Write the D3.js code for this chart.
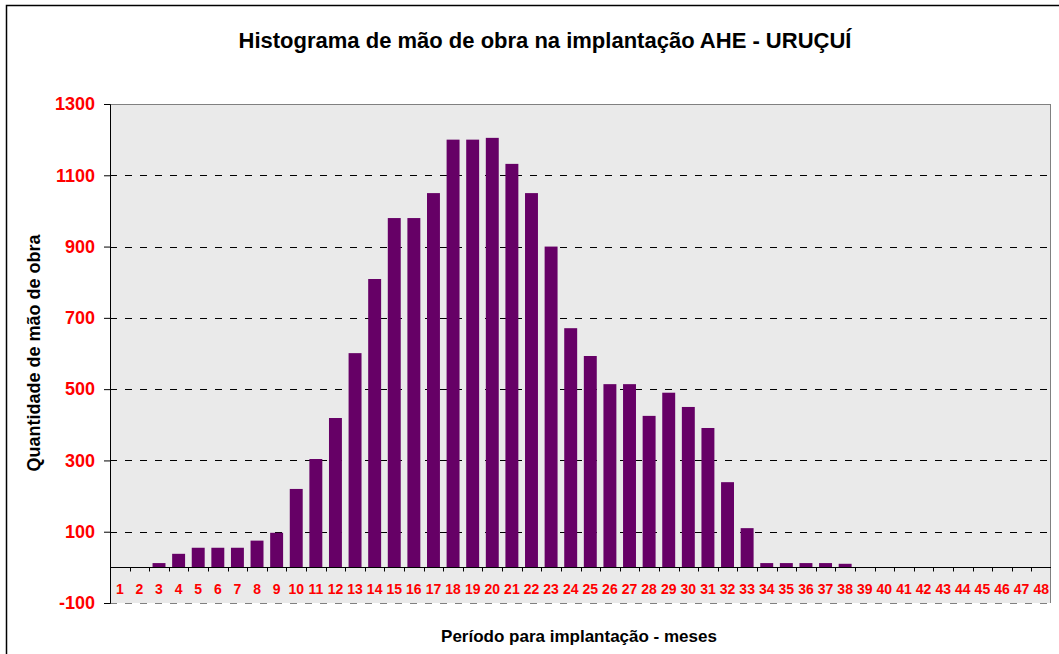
<!DOCTYPE html>
<meta charset="utf-8">
<script src="https://d3js.org/d3.v7.min.js"></script>
<style>
  body { margin: 0; background: #fff; }
  text { font-family: "Liberation Sans", Arial, sans-serif; font-weight: bold; }
</style>
<div id="chart"></div>
<script>
  // data
  const months = d3.range(1, 49).map(String);
  const workers = [0, 0, 12, 38, 55, 55, 55, 75, 97, 220, 304, 419, 601, 809, 980, 980,
    1050, 1200, 1200, 1205, 1132, 1050, 900, 671, 593, 514, 514, 425, 490, 450, 391, 239,
    110, 12, 12, 12, 12, 10, 0, 0, 0, 0, 0, 0, 0, 0, 0, 0];
  const yTicks = [1300, 1100, 900, 700, 500, 300, 100, -100];

  const W = 1059, H = 654;
  const margin = {top: 104, right: 8, bottom: 51, left: 110};
  const width = W - margin.left - margin.right,
        height = H - margin.top - margin.bottom;

  const svg = d3.select("#chart").append("svg")
      .attr("width", W).attr("height", H);

  // outer chart border
  svg.append("rect")
      .attr("x", 6.5).attr("y", 5.5).attr("width", W).attr("height", H)
      .attr("fill", "none").attr("stroke", "#000").attr("stroke-width", 1.5);

  const g = svg.append("g").attr("transform", `translate(${margin.left},${margin.top})`);

  const x = d3.scaleBand().domain(months).range([0, width]).paddingInner(0.34).paddingOuter(0.17);
  const y = d3.scaleLinear().domain([-100, 1300]).range([height, 0]);

  // plot area
  g.append("rect").attr("width", width).attr("height", height).attr("fill", "#eaeaea");
  g.append("line").attr("x1", 0).attr("x2", width).attr("y1", 0.5).attr("y2", 0.5)
      .attr("stroke", "#808080");
  g.append("line").attr("x1", width - 0.5).attr("x2", width - 0.5).attr("y1", 0).attr("y2", height)
      .attr("stroke", "#808080");

  // dashed grid
  g.selectAll(".grid").data(yTicks.filter(d => d < 1300))
    .join("line")
      .attr("x1", 0).attr("x2", width)
      .attr("y1", d => Math.round(y(d)) + 0.5).attr("y2", d => Math.round(y(d)) + 0.5)
      .attr("stroke", d => d === -100 ? "#808080" : "#000")
      .attr("stroke-dasharray", "7,8");

  // bars
  g.selectAll(".bar").data(workers)
    .join("rect")
      .attr("x", (d, i) => x(months[i]))
      .attr("width", x.bandwidth())
      .attr("y", d => y(d))
      .attr("height", d => y(0) - y(d))
      .attr("fill", "#660066");

  // y axis
  const yAxis = g.append("g")
      .call(d3.axisLeft(y).tickValues(yTicks).tickSize(6).tickPadding(9).tickFormat(d => String(d)));
  yAxis.select(".domain").attr("stroke", "#000");
  yAxis.selectAll("text").attr("fill", "#ff0000").style("font-size", "18px");

  // zero line with category ticks
  const xAxis = g.append("g").attr("transform", `translate(0,${Math.round(y(0)) + 0.5})`);
  xAxis.append("line").attr("x1", 0).attr("x2", width).attr("stroke", "#000");
  xAxis.selectAll(".tk").data(d3.range(1, months.length))
    .join("line")
      .attr("x1", i => Math.round(i * x.step()) + 0.5)
      .attr("x2", i => Math.round(i * x.step()) + 0.5)
      .attr("y1", 0).attr("y2", 4).attr("stroke", "#000");
  xAxis.selectAll(".lbl").data(months)
    .join("text")
      .attr("x", d => x(d) + x.bandwidth() / 2)
      .attr("y", 26)
      .attr("text-anchor", "middle")
      .attr("fill", "#ff0000")
      .style("font-size", "14px")
      .text(d => d);

  // titles
  svg.append("text").attr("x", 545).attr("y", 48).attr("text-anchor", "middle")
      .style("font-size", "22px").text("Histograma de mão de obra na implantação AHE - URUÇUÍ");
  svg.append("text").attr("x", 579).attr("y", 642).attr("text-anchor", "middle")
      .style("font-size", "17px").text("Período para implantação - meses");
  svg.append("text").attr("transform", "translate(40,353) rotate(-90)").attr("text-anchor", "middle")
      .style("font-size", "18px").text("Quantidade de mão de obra");
</script>
